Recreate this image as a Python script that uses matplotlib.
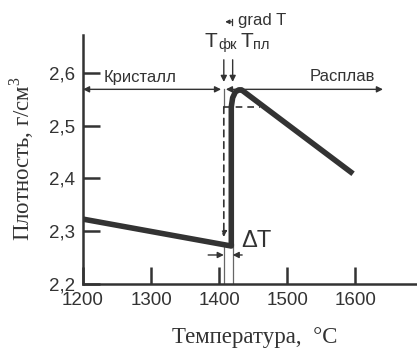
import matplotlib
matplotlib.use("Agg")
import matplotlib.pyplot as plt

plt.rcParams["mathtext.fontset"] = "custom"
plt.rcParams["mathtext.rm"] = "Liberation Serif"

# density curve (T in C, rho in g/cm3)
T_curve = [1200, 1418, 1418, 1420, 1424, 1429, 1433, 1597]
rho_curve = [2.323, 2.272, 2.536, 2.553, 2.564, 2.568, 2.568, 2.409]

x_ticks = [1200, 1300, 1400, 1500, 1600]
y_ticks = [2.2, 2.3, 2.4, 2.5, 2.6]
y_tick_labels = ["2,2", "2,3", "2,4", "2,5", "2,6"]

T_fk = 1407
T_pl = 1420
rho_dash = 2.536
rho_arrow = 2.569

dark = "#333333"
thin = "#666666"
sans = "Liberation Sans"
serif = "Liberation Serif"

fig = plt.figure(figsize=(4.17, 3.51), dpi=100)
ax = fig.add_axes([83 / 417, 67 / 351, 334 / 417, 249 / 351])
ax.set_xlim(1200, 1691)
ax.set_ylim(2.2, 2.672)

for s in ["top", "right"]:
    ax.spines[s].set_visible(False)
for s in ["left", "bottom"]:
    ax.spines[s].set_linewidth(1.8)
    ax.spines[s].set_color(dark)

ax.set_xticks(x_ticks)
ax.set_yticks(y_ticks)
ax.set_yticklabels(y_tick_labels)
ax.tick_params(direction="in", length=12, width=1.8, color=dark,
               labelsize=13.5, pad=6)
for lab in ax.get_xticklabels() + ax.get_yticklabels():
    lab.set_fontfamily(sans)
    lab.set_color(dark)

# main curve
ax.plot(T_curve, rho_curve, color=dark, lw=4.0, solid_capstyle="butt",
        solid_joinstyle="round", zorder=5)

# dashed construction lines
ax.plot([T_fk, T_fk], [rho_arrow, rho_dash], color=thin, lw=0.9)
ax.annotate("", xy=(T_fk, 2.289), xytext=(T_fk, rho_dash),
            arrowprops=dict(arrowstyle="-|>", color=dark, lw=1.2,
                            linestyle=(0, (4, 3)), mutation_scale=8,
                            shrinkA=0, shrinkB=0))
ax.plot([T_fk, 1460], [rho_dash, rho_dash], color=dark, lw=1.2,
        linestyle=(0, (4, 3)))

# thin lines at bottom
ax.plot([T_fk, T_fk], [2.2, 2.275], color=thin, lw=0.9)
ax.plot([T_pl, T_pl], [2.2, 2.275], color=thin, lw=0.9)

arrow_kw = dict(color=dark, lw=1.0, mutation_scale=9, shrinkA=0, shrinkB=0)

# Кристалл / Расплав arrows
ax.annotate("", xy=(1200, rho_arrow), xytext=(1403, rho_arrow),
            arrowprops=dict(arrowstyle="<|-|>", **arrow_kw), annotation_clip=False)
ax.annotate("", xy=(1410, rho_arrow), xytext=(1641, rho_arrow),
            arrowprops=dict(arrowstyle="<|-|>", **arrow_kw), annotation_clip=False)
ax.text(1231, 2.592, "Кристалл", fontsize=12, family=sans, color=dark,
        ha="left", va="center")
ax.text(1533, 2.593, "Расплав", fontsize=12, family=sans, color=dark,
        ha="left", va="center")

# T_fk / T_pl arrows and labels
for t in [T_fk, T_pl]:
    ax.annotate("", xy=(t, 2.583), xytext=(t, 2.625),
                arrowprops=dict(arrowstyle="-|>", **arrow_kw),
                annotation_clip=False)
ax.text(1379, 2.650, "T", fontsize=15, family=sans, color=dark,
        ha="left", va="baseline", clip_on=False)
ax.text(1399, 2.645, "фк", fontsize=10.5, family=sans, color=dark,
        ha="left", va="baseline", clip_on=False)
ax.text(1431, 2.650, "T", fontsize=15, family=sans, color=dark,
        ha="left", va="baseline", clip_on=False)
ax.text(1450, 2.645, "пл", fontsize=10.5, family=sans, color=dark,
        ha="left", va="baseline", clip_on=False)

# grad T
ax.annotate("", xy=(1409, 2.697), xytext=(1419, 2.697),
            arrowprops=dict(arrowstyle="-|>", color=dark, lw=0.9,
                            mutation_scale=6, shrinkA=0, shrinkB=0),
            annotation_clip=False)
ax.plot([1419, 1419], [2.691, 2.703], color=dark, lw=0.9, clip_on=False)
ax.text(1428, 2.691, "grad T", fontsize=12, family=sans, color=dark,
        ha="left", va="baseline", clip_on=False)

# delta T
ax.annotate("", xy=(T_fk, 2.255), xytext=(1384, 2.255),
            arrowprops=dict(arrowstyle="-|>", **arrow_kw))
ax.annotate("", xy=(T_pl, 2.255), xytext=(1434, 2.255),
            arrowprops=dict(arrowstyle="-|>", **arrow_kw))
ax.text(1432, 2.281, "ΔT", fontsize=17, family=sans, color=dark,
        ha="left", va="center")

# axis labels
fig.text(22 / 417, 1 - 159 / 351, r"Плотность, г/см$^\mathrm{3}$", rotation=90,
         fontsize=16.5, family=serif, color=dark, ha="center", va="center")
fig.text(255 / 417, 1 - 338 / 351, "Температура,  °C", fontsize=16.5,
         family=serif, color=dark, ha="center", va="center")

fig.savefig("out.png", dpi=100)
